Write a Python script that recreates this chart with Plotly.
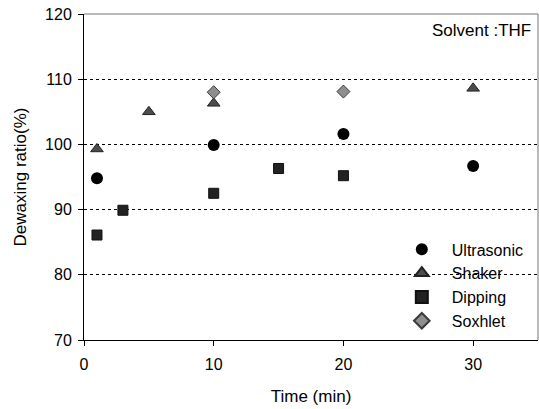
import plotly.graph_objects as go

ultra_x = [1, 10, 20, 30]
ultra_y = [94.8, 99.9, 101.6, 96.7]
shaker_x = [1, 5, 10, 30]
shaker_y = [99.3, 105.0, 106.3, 108.6]
dip_x = [1, 3, 10, 15, 20]
dip_y = [86.1, 89.9, 92.5, 96.3, 95.2]
sox_x = [10, 20]
sox_y = [108.0, 108.1]

FONT = "Liberation Sans"

fig = go.Figure()
fig.add_trace(go.Scatter(x=ultra_x, y=ultra_y, mode="markers", name="Ultrasonic",
                         marker=dict(symbol="circle", size=12, color="black", line=dict(width=0))))
fig.add_trace(go.Scatter(x=shaker_x, y=shaker_y, mode="markers", name="Shaker",
                         marker=dict(symbol="triangle-up", size=11, color="#4d4d4d", line=dict(color="#222222", width=1))))
fig.add_trace(go.Scatter(x=dip_x, y=dip_y, mode="markers", name="Dipping",
                         marker=dict(symbol="square", size=10, color="#222222", line=dict(color="#111111", width=1))))
fig.add_trace(go.Scatter(x=sox_x, y=sox_y, mode="markers", name="Soxhlet",
                         marker=dict(symbol="diamond", size=10, color="#8e8e8e", line=dict(color="#3a3a3a", width=1))))

fig.update_layout(
    width=539, height=409,
    margin=dict(l=84, r=1, t=14, b=69, autoexpand=False),
    paper_bgcolor="white", plot_bgcolor="white",
    font=dict(family=FONT, size=16, color="black"),
    showlegend=True,
    legend=dict(x=0.678, y=0.33, xanchor="left", yanchor="top", bgcolor="rgba(0,0,0,0)",
                font=dict(family=FONT, size=16), tracegroupgap=0, itemsizing="constant", itemwidth=50),
    xaxis=dict(range=[0, 35], tickvals=[0, 10, 20, 30], ticks="outside", ticklen=5,
               tickcolor="black", showline=True, linecolor="black", linewidth=1,
               showgrid=False, zeroline=False, automargin=False, ticklabelstandoff=5,
               ticklabeloverflow="allow",
               tickfont=dict(family=FONT, size=16),
               title=dict(text="Time (min)", font=dict(family=FONT, size=17), standoff=17)),
    yaxis=dict(range=[70, 120], tickvals=[70, 80, 90, 100, 110, 120], ticks="outside", ticklen=5,
               tickcolor="black", showline=True, linecolor="black", linewidth=1,
               showgrid=True, gridcolor="black", griddash="dot", gridwidth=1, zeroline=False,
               automargin=False, ticklabelstandoff=3, ticklabeloverflow="allow",
               tickfont=dict(family=FONT, size=16),
               title=dict(text="Dewaxing ratio(%)", font=dict(family=FONT, size=17), standoff=14)),
    shapes=[
        dict(type="line", xref="paper", yref="paper", x0=0, x1=1, y0=1, y1=1, line=dict(color="#777777", width=1)),
        dict(type="line", xref="paper", yref="paper", x0=1, x1=1, y0=0, y1=1, line=dict(color="#777777", width=1)),
    ],
    annotations=[
        dict(text="Solvent :THF", xref="paper", yref="paper", x=0.99, y=0.985, xanchor="right", yanchor="top",
             showarrow=False, font=dict(family=FONT, size=17)),
    ],
)

fig.write_html("out.html", config={"displayModeBar": False},
               post_script="document.body.style.margin='0';document.body.style.overflow='hidden';")
